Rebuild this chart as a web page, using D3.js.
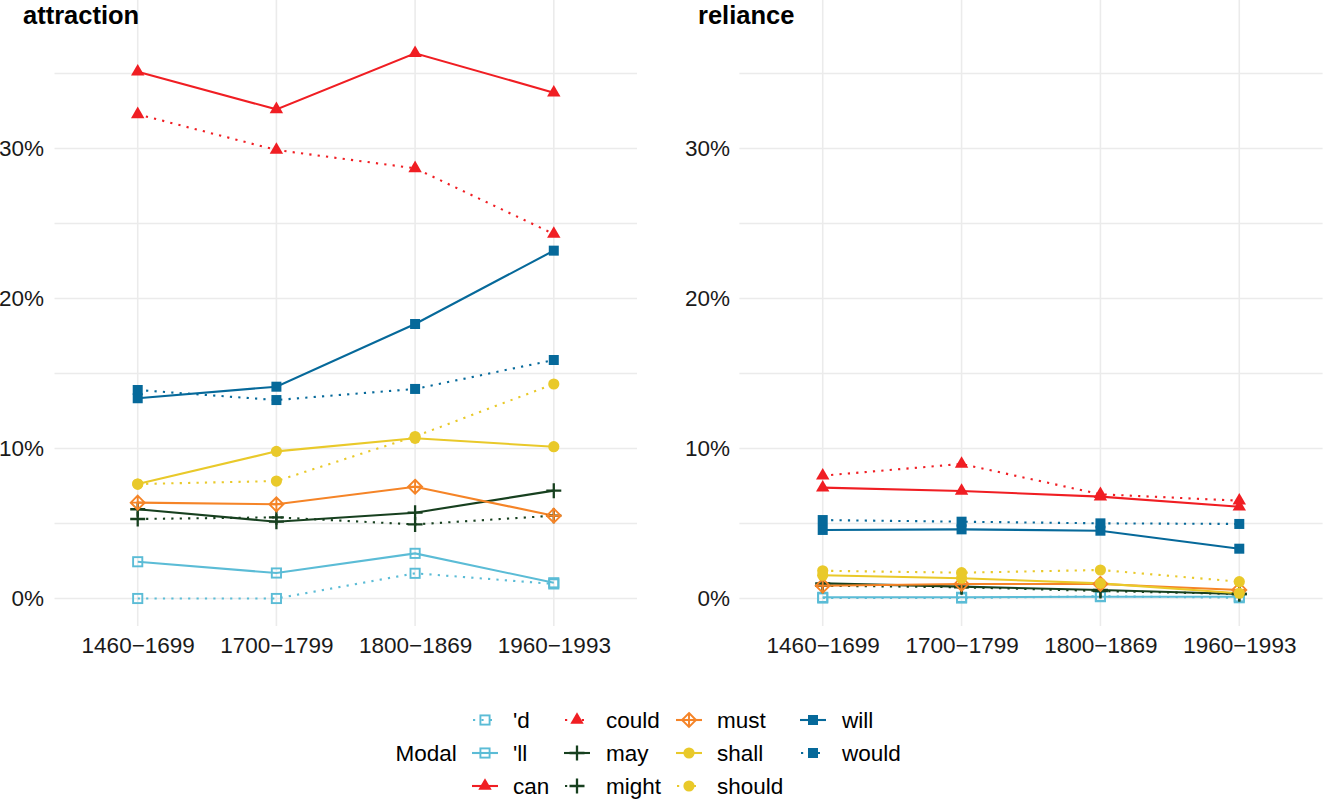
<!DOCTYPE html>
<html>
<head>
<meta charset="utf-8">
<script src="https://cdn.jsdelivr.net/npm/d3@7"></script>
<style>
  body { margin: 0; background: #fff; }
  svg { display: block; font-family: "Liberation Sans", Arial, Helvetica, sans-serif; }
</style>
</head>
<body>
<svg id="chart" width="1323" height="799"></svg>
<script>
// ---- data ----
const periods = ["1460\u22121699", "1700\u22121799", "1800\u22121869", "1960\u22121993"];
const modals = ["'d", "'ll", "can", "could", "may", "might", "must", "shall", "should", "will", "would"];
const panelTitles = ["attraction", "reliance"];
const yTicks = [0, 10, 20, 30];

// percentages, one row per modal (same order as `modals`), one column per period
const attractionValues = [
  [0.00, 0.00, 1.68, 0.97],
  [2.45, 1.70, 3.01, 1.05],
  [35.12, 32.61, 36.35, 33.72],
  [32.28, 29.90, 28.68, 24.30],
  [5.95, 5.12, 5.72, 7.19],
  [5.30, 5.41, 4.94, 5.52],
  [6.39, 6.28, 7.45, 5.52],
  [7.63, 9.81, 10.68, 10.12],
  [7.63, 7.83, 10.80, 14.30],
  [13.35, 14.12, 18.30, 23.19],
  [13.90, 13.23, 13.97, 15.90]
];
const relianceValues = [
  [0.03, 0.03, 0.15, 0.05],
  [0.08, 0.08, 0.12, 0.12],
  [7.39, 7.17, 6.79, 6.12],
  [8.19, 8.97, 6.95, 6.52],
  [1.01, 0.79, 0.57, 0.30],
  [0.85, 0.75, 0.50, 0.30],
  [0.85, 0.97, 0.97, 0.57],
  [1.55, 1.35, 1.01, 0.35],
  [1.85, 1.72, 1.90, 1.12],
  [4.57, 4.61, 4.52, 3.32],
  [5.23, 5.12, 5.01, 4.97]
];

// ---- styles ----
const modalColor = {
  "'d": "#5BBCD6", "'ll": "#5BBCD6",
  "can": "#F01E23", "could": "#F01E23",
  "may": "#17401F", "might": "#17401F",
  "must": "#F58427",
  "shall": "#E9C92A", "should": "#E9C92A",
  "will": "#06699A", "would": "#06699A"
};
const dottedSet = new Set(["'d", "could", "might", "should", "would"]);
const shapeOf = {
  "'d": "osquare", "'ll": "osquare", "can": "triangle", "could": "triangle",
  "may": "plus", "might": "plus", "must": "diamondplus",
  "shall": "circle", "should": "circle", "will": "square", "would": "square"
};

const svg = d3.select("#chart");
const FONT = 22.5;

const y = d3.scaleLinear().domain([-1.82, 38.22]).range([625.8, 25.2]);
const panels = [
  { title: panelTitles[0], values: attractionValues, x0: 54.5, x1: 637, titleX: 23, labelX: 44 },
  { title: panelTitles[1], values: relianceValues, x0: 739.4, x1: 1322.6, titleX: 698, labelX: 730 }
];

function drawMarker(g, shape, color, cx, cy) {
  if (shape === "osquare") {
    g.append("rect").attr("x", cx - 4.6).attr("y", cy - 4.6).attr("width", 9.2).attr("height", 9.2)
      .attr("fill", "none").attr("stroke", color).attr("stroke-width", 1.9);
  } else if (shape === "triangle") {
    g.append("path").attr("transform", `translate(${cx},${cy})`)
      .attr("d", d3.symbol(d3.symbolTriangle, 78)()).attr("fill", color);
  } else if (shape === "plus") {
    g.append("path").attr("d", `M${cx - 7.5},${cy}H${cx + 7.5}M${cx},${cy - 7.5}V${cy + 7.5}`)
      .attr("stroke", color).attr("stroke-width", 2.3).attr("fill", "none");
  } else if (shape === "diamondplus") {
    const r = 7;
    g.append("path").attr("d", `M${cx},${cy - r}L${cx + r},${cy}L${cx},${cy + r}L${cx - r},${cy}Z M${cx - r},${cy}H${cx + r}M${cx},${cy - r}V${cy + r}`)
      .attr("stroke", color).attr("stroke-width", 1.9).attr("fill", "none");
  } else if (shape === "circle") {
    g.append("circle").attr("cx", cx).attr("cy", cy).attr("r", 5.6).attr("fill", color);
  } else if (shape === "square") {
    g.append("rect").attr("x", cx - 5).attr("y", cy - 5).attr("width", 10).attr("height", 10).attr("fill", color);
  }
}

panels.forEach(p => {
  const spacing = (p.x1 - p.x0) / (periods.length - 1 + 1.2);
  const x = d3.scalePoint().domain(periods).range([p.x0 + 0.6 * spacing, p.x1 - 0.6 * spacing]);
  const g = svg.append("g");

  // grid
  const grid = g.append("g").attr("stroke", "#EBEBEB").attr("stroke-width", 1.6);
  d3.range(0, 36, 5).forEach(v => {
    grid.append("line").attr("x1", p.x0).attr("x2", p.x1).attr("y1", y(v)).attr("y2", y(v));
  });
  periods.forEach(c => {
    grid.append("line").attr("x1", x(c)).attr("x2", x(c)).attr("y1", 0).attr("y2", 626);
  });

  // y axis
  const yAxis = g.append("g").attr("transform", `translate(${p.labelX + 10},0)`)
    .call(d3.axisLeft(y).tickValues(yTicks).tickFormat(d => d + "%").tickSize(0).tickPadding(10));
  yAxis.select(".domain").remove();
  yAxis.selectAll("text").attr("font-size", FONT).attr("fill", "#1a1a1a")
    .attr("font-family", "Liberation Sans, Arial, sans-serif");

  // x axis
  const xAxis = g.append("g").attr("transform", `translate(0,626)`)
    .call(d3.axisBottom(x).tickSize(0).tickPadding(11));
  xAxis.select(".domain").remove();
  xAxis.selectAll("text").attr("font-size", FONT).attr("fill", "#1a1a1a")
    .attr("font-family", "Liberation Sans, Arial, sans-serif");

  // lines
  const line = d3.line().x((d, i) => x(periods[i])).y(d => y(d));
  modals.forEach((m, mi) => {
    g.append("path").datum(p.values[mi]).attr("d", line)
      .attr("fill", "none").attr("stroke", modalColor[m]).attr("stroke-width", 2.1)
      .attr("stroke-dasharray", dottedSet.has(m) ? "2.2,6.2" : null);
  });
  // points
  modals.forEach((m, mi) => {
    p.values[mi].forEach((v, i) => drawMarker(g, shapeOf[m], modalColor[m], x(periods[i]), y(v)));
  });

  // title
  svg.append("text").attr("x", p.titleX).attr("y", 24).attr("font-size", 25.5)
    .attr("font-weight", "bold").attr("fill", "#000").text(p.title);
});

// ---- legend ----
const legend = svg.append("g");
legend.append("text").attr("x", 395.5).attr("y", 753).attr("dy", "0.35em")
  .attr("font-size", FONT).attr("fill", "#000").text("Modal");
const keyCx = [485, 577, 689, 813];
const labelX = [513, 606, 717, 842];
const rowY = [720, 753, 786];
modals.forEach((m, i) => {
  const col = Math.floor(i / 3), row = i % 3;
  const cx = keyCx[col], cy = rowY[row];
  legend.append("line").attr("x1", cx - 13).attr("x2", cx + 13).attr("y1", cy).attr("y2", cy)
    .attr("stroke", modalColor[m]).attr("stroke-width", 2.1)
    .attr("stroke-dasharray", dottedSet.has(m) ? "2.2,6.2" : null)
    .attr("stroke-dashoffset", dottedSet.has(m) ? -1 : null);
  drawMarker(legend, shapeOf[m], modalColor[m], cx, cy);
  legend.append("text").attr("x", labelX[col]).attr("y", cy).attr("dy", "0.35em")
    .attr("font-size", FONT).attr("fill", "#000").text(m);
});
</script>
</body>
</html>
